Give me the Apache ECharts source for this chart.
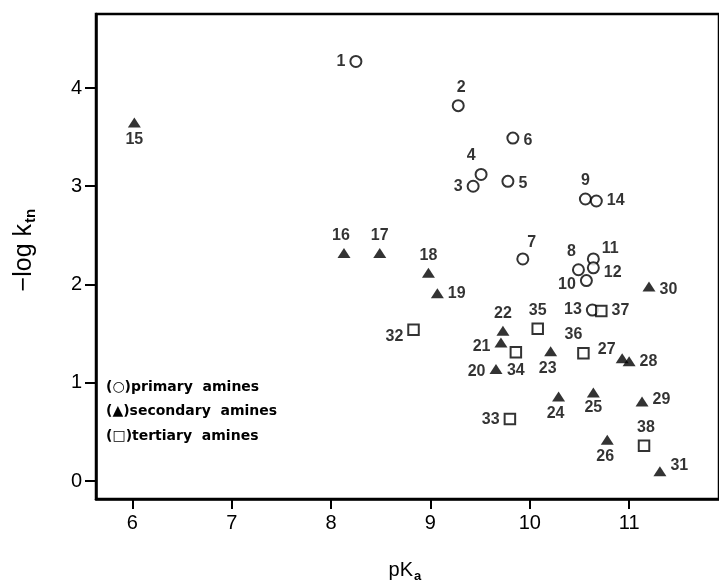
<!DOCTYPE html>
<html><head><meta charset="utf-8">
<script src="https://cdn.jsdelivr.net/npm/echarts@6/dist/echarts.min.js"></script>
<style>html,body{margin:0;padding:0;background:#fff}#c{width:719px;height:580px}</style>
</head><body><div id="c"></div>
<script>
// ---- data ----
const xTicks = [6, 7, 8, 9, 10, 11];
const yTicks = [0, 1, 2, 3, 4];

const primaryIds  = [1, 2, 3, 4, 5, 6, 7, 8, 9, 10, 11, 12, 13, 14];
const primaryPka  = [8.25, 9.28, 9.43, 9.51, 9.78, 9.83, 9.93, 10.49, 10.56, 10.57, 10.64, 10.64, 10.63, 10.67];
const primaryLogK = [4.27, 3.82, 3.00, 3.12, 3.05, 3.49, 2.26, 2.15, 2.87, 2.04, 2.26, 2.17, 1.74, 2.85];

const secondaryIds  = [15, 16, 17, 18, 19, 20, 21, 22, 23, 24, 25, 26, 27, 28, 29, 30, 31];
const secondaryPka  = [6.02, 8.13, 8.49, 8.98, 9.07, 9.66, 9.71, 9.73, 10.21, 10.29, 10.64, 10.78, 10.93, 11.00, 11.13, 11.20, 11.31];
const secondaryLogK = [3.65, 2.32, 2.32, 2.12, 1.91, 1.14, 1.41, 1.53, 1.32, 0.86, 0.90, 0.42, 1.25, 1.22, 0.81, 1.98, 0.10];

const tertiaryIds  = [32, 33, 34, 35, 36, 37, 38];
const tertiaryPka  = [8.83, 9.80, 9.86, 10.08, 10.54, 10.72, 11.15];
const tertiaryLogK = [1.54, 0.63, 1.31, 1.55, 1.30, 1.73, 0.36];

const legendLines = ['(\u25CB)primary  amines', '(\u25B2)secondary  amines', '(\u25A1)tertiary  amines'];

// ---- label placement (layout only) ----
const labelPlace = {
  1:['left',0,0], 2:['top',3,0], 3:['left',0,0], 4:['top',-10,0], 5:['right',0,2], 6:['right',0,2],
  7:['top',9,2], 8:['top',-7,0], 9:['top',0,0], 10:['left',0,4], 11:['right',-2,-10], 12:['right',0,5],
  13:['left',0,0], 14:['right',0,0],
  15:['bottom',0,0], 16:['top',-3,0], 17:['top',0,0], 18:['top',0,0], 19:['right',0,0], 20:['left',0,3],
  21:['left',0,4], 22:['top',0,0], 23:['bottom',-3,0], 24:['bottom',-3,0], 25:['bottom',0,-2], 26:['bottom',-2,0],
  27:['left',4,-9], 28:['right',0,0], 29:['right',0,-2], 30:['right',0,3], 31:['right',0,-6],
  32:['left',0,7], 33:['left',0,0], 34:['bottom',0,0], 35:['top',0,0], 36:['top',-10,0], 37:['right',0,0], 38:['top',2,0]
};

const FONT = 'Liberation Sans, Arial, Helvetica, sans-serif';

function build(ids, xs, ys) {
  return ids.map((id, i) => {
    const p = labelPlace[id] || ['right', 0, 0];
    return { value: [xs[i], ys[i], id], label: { position: p[0], offset: [p[1], p[2]] } };
  });
}

const labelStyle = { show: true, formatter: p => String(p.value[2]), color: '#000', fontSize: 16, fontWeight: 'bold', fontFamily: FONT, distance: 4 };

const chart = echarts.init(document.getElementById('c'), null, { renderer: 'canvas' });
const xMin = 5.634, xMax = 5.634 + 644 / 102.7;
chart.setOption({
  backgroundColor: '#fff',
  animation: false,
  grid: { left: 96, top: 14, width: 644, height: 485, show: true, borderColor: '#000', borderWidth: 2.5, backgroundColor: 'transparent' },
  xAxis: {
    type: 'value', min: xMin, max: xMax,
    axisLine: { show: true, onZero: false, lineStyle: { color: '#000', width: 2.5 } },
    axisTick: { show: true, customValues: xTicks, length: 10, lineStyle: { color: '#000', width: 2 } },
    axisLabel: { customValues: xTicks, color: '#000', fontSize: 20, fontFamily: FONT, margin: 14 },
    splitLine: { show: false }
  },
  yAxis: {
    type: 'value', min: -0.183, max: 4.753,
    axisLine: { show: true, onZero: false, lineStyle: { color: '#000', width: 2.5 } },
    axisTick: { show: true, customValues: yTicks, length: 11, lineStyle: { color: '#000', width: 2 } },
    axisLabel: { customValues: yTicks, color: '#000', fontSize: 20, fontFamily: FONT, margin: 14 },
    splitLine: { show: false }
  },
  series: [
    { name: 'primary amines', type: 'scatter', symbol: 'circle', symbolSize: 11,
      itemStyle: { color: '#fff', borderColor: '#000', borderWidth: 2 },
      label: labelStyle, data: build(primaryIds, primaryPka, primaryLogK) },
    { name: 'secondary amines', type: 'scatter', symbol: 'triangle', symbolSize: [13, 10],
      itemStyle: { color: '#000' },
      label: labelStyle, data: build(secondaryIds, secondaryPka, secondaryLogK) },
    { name: 'tertiary amines', type: 'scatter', symbol: 'rect', symbolSize: 10.5,
      itemStyle: { color: '#fff', borderColor: '#000', borderWidth: 2 },
      label: labelStyle, data: build(tertiaryIds, tertiaryPka, tertiaryLogK) }
  ],
  graphic: [
    { type: 'group', x: 24, y: 258, rotation: Math.PI / 2, children: [
      { type: 'text', x: 34, y: 0, style: { text: '\u2212log k', font: '25px ' + FONT, fill: '#000', textAlign: 'right', textVerticalAlign: 'middle' } },
      { type: 'text', x: 35, y: 7, style: { text: 'tn', font: 'bold 15px ' + FONT, fill: '#000', textAlign: 'left', textVerticalAlign: 'middle' } }
    ]},
    { type: 'text', x: 413, y: 570, style: { text: 'pK', font: '20px ' + FONT, fill: '#000', textAlign: 'right', textVerticalAlign: 'middle' } },
    { type: 'text', x: 414, y: 576, style: { text: 'a', font: 'bold 13px ' + FONT, fill: '#000', textAlign: 'left', textVerticalAlign: 'middle' } },
    ...legendLines.map((t, i) => ({ type: 'text', x: 106, y: 387 + i * 24.7,
      style: { text: t, font: 'bold 14px DejaVu Sans, sans-serif', fill: '#000', textAlign: 'left', textVerticalAlign: 'middle' } }))
  ]
});
</script></body></html>
